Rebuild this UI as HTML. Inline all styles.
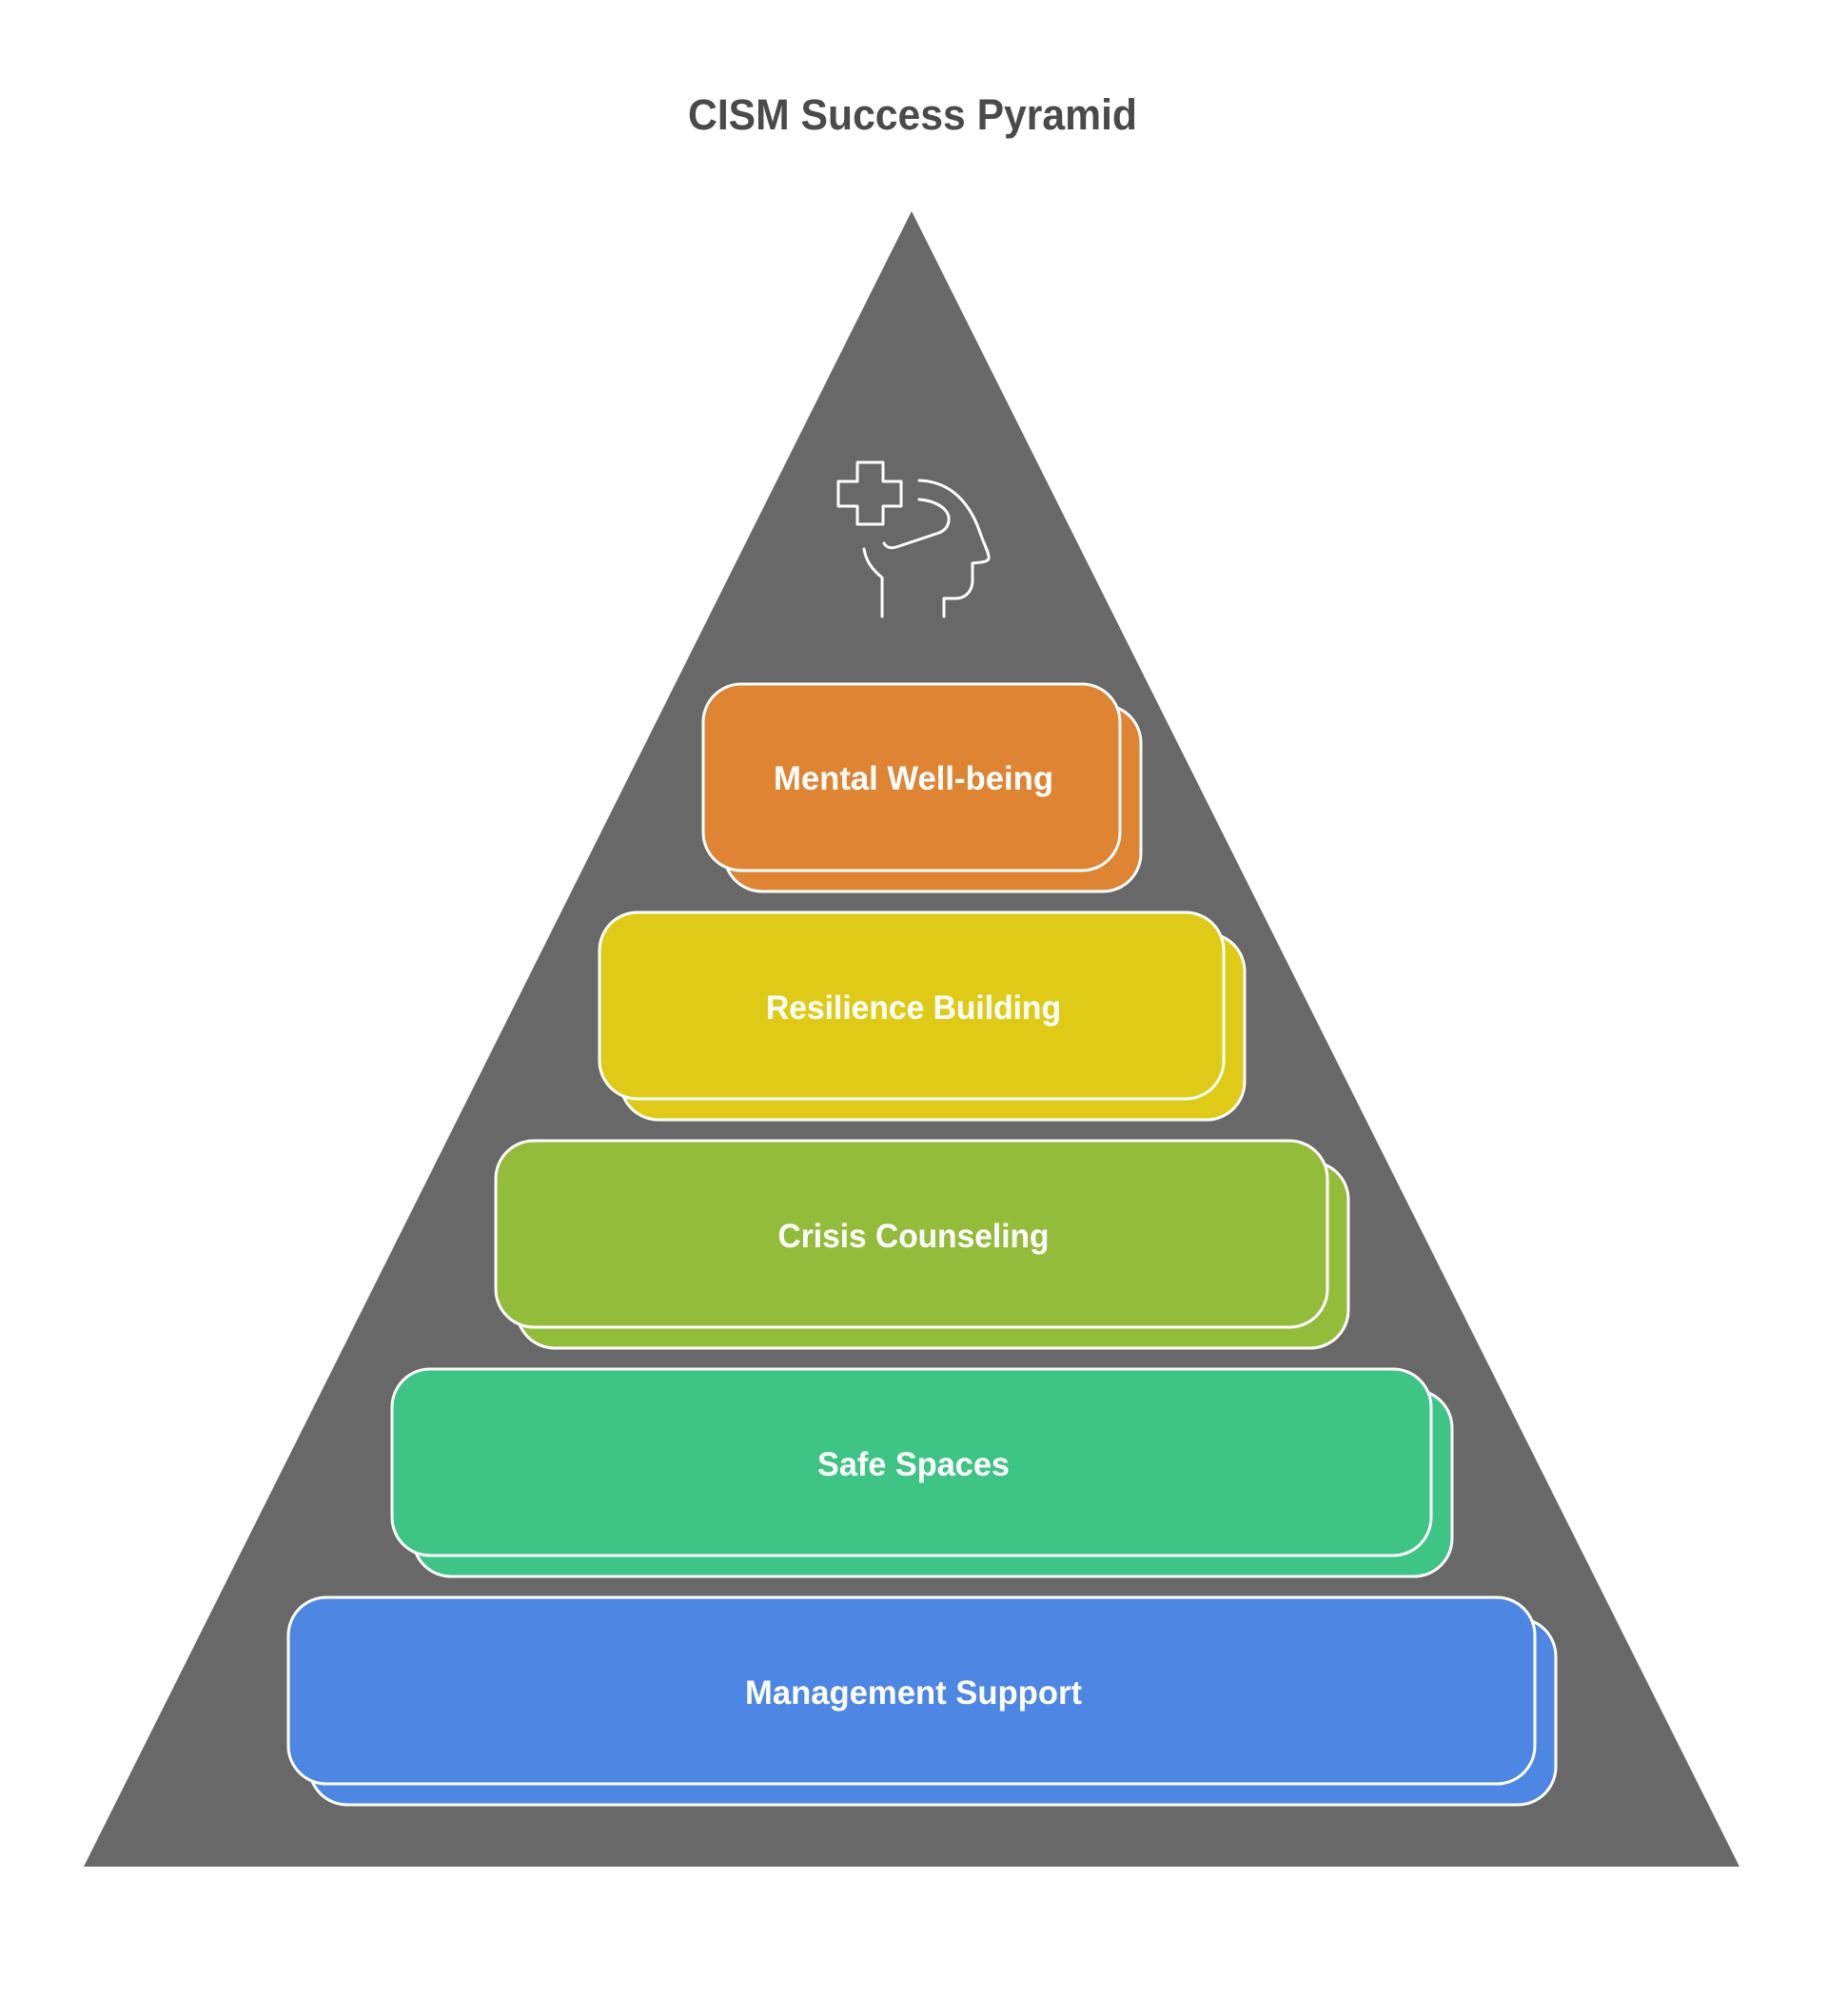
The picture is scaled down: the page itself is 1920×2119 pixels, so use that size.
<!DOCTYPE html>
<html>
<head>
<meta charset="utf-8">
<style>
  html, body { margin: 0; padding: 0; background: #ffffff; }
  body { width: 1920px; height: 2119px; overflow: hidden; }
  svg { display: block; }
  .lbl { font-family: "Liberation Sans", Arial, sans-serif; font-weight: bold; font-size: 35px; fill: #ffffff; }
  .ttl { font-family: "Liberation Sans", Arial, sans-serif; font-weight: bold; font-size: 45px; fill: #4a4a4a; }
</style>
</head>
<body>
<svg width="1920" height="2119" viewBox="0 0 1920 2119" xmlns="http://www.w3.org/2000/svg">
  <rect x="0" y="0" width="1920" height="2119" fill="#ffffff"/>

  <!-- Title -->
  <text class="ttl" x="959" y="136" text-anchor="middle" textLength="472" lengthAdjust="spacingAndGlyphs">CISM Success Pyramid</text>

  <!-- Pyramid -->
  <polygon points="958,222 1828,1962 88,1962" fill="#686868"/>

  <!-- Icon: cross + head -->
  <g fill="none" stroke="#ffffff" stroke-width="3" stroke-linejoin="round" stroke-linecap="round">
    <path d="M901,486 H928 V506 H947 V532 H928 V551 H901 V532 H881 V506 H901 Z"/>
    <path d="M966,505 C1000,506 1020,530 1030,560 C1034,572 1040,582 1039,587 C1038,591 1030,591 1022,592 V610 C1022,622 1014,629 1004,629 H992 V648"/>
    <path d="M966,525 C980,526 994,532 997,543 C998,552 994,557 987,560 L942,575 C936,577 931,575 929,571"/>
    <path d="M908,577 C910,590 918,600 927,607 V648"/>
  </g>

  <!-- Level 1: Mental Well-being -->
  <rect x="761" y="741" width="438" height="196" rx="40" ry="40" fill="#de8432" stroke="#ffffff" stroke-width="3"/>
  <rect x="739" y="719" width="438" height="196" rx="40" ry="40" fill="#de8432" stroke="#ffffff" stroke-width="3"/>
  <text class="lbl" x="960" y="830" text-anchor="middle" textLength="294" lengthAdjust="spacingAndGlyphs">Mental Well-being</text>

  <!-- Level 2: Resilience Building -->
  <rect x="652" y="981" width="656" height="196" rx="40" ry="40" fill="#dfcb17" stroke="#ffffff" stroke-width="3"/>
  <rect x="630" y="959" width="656" height="196" rx="40" ry="40" fill="#dfcb17" stroke="#ffffff" stroke-width="3"/>
  <text class="lbl" x="960" y="1071" text-anchor="middle" textLength="310" lengthAdjust="spacingAndGlyphs">Resilience Building</text>

  <!-- Level 3: Crisis Counseling -->
  <rect x="543" y="1221" width="874" height="196" rx="40" ry="40" fill="#94bc3b" stroke="#ffffff" stroke-width="3"/>
  <rect x="521" y="1199" width="874" height="196" rx="40" ry="40" fill="#94bc3b" stroke="#ffffff" stroke-width="3"/>
  <text class="lbl" x="960" y="1311" text-anchor="middle" textLength="285" lengthAdjust="spacingAndGlyphs">Crisis Counseling</text>

  <!-- Level 4: Safe Spaces -->
  <rect x="434" y="1461" width="1092" height="196" rx="40" ry="40" fill="#3ec484" stroke="#ffffff" stroke-width="3"/>
  <rect x="412" y="1439" width="1092" height="196" rx="40" ry="40" fill="#3ec484" stroke="#ffffff" stroke-width="3"/>
  <text class="lbl" x="960" y="1551" text-anchor="middle" textLength="202" lengthAdjust="spacingAndGlyphs">Safe Spaces</text>

  <!-- Level 5: Management Support -->
  <rect x="325" y="1701" width="1310" height="196" rx="40" ry="40" fill="#4e87e3" stroke="#ffffff" stroke-width="3"/>
  <rect x="303" y="1679" width="1310" height="196" rx="40" ry="40" fill="#4e87e3" stroke="#ffffff" stroke-width="3"/>
  <text class="lbl" x="960" y="1791" text-anchor="middle" textLength="354" lengthAdjust="spacingAndGlyphs">Management Support</text>
</svg>
</body>
</html>
